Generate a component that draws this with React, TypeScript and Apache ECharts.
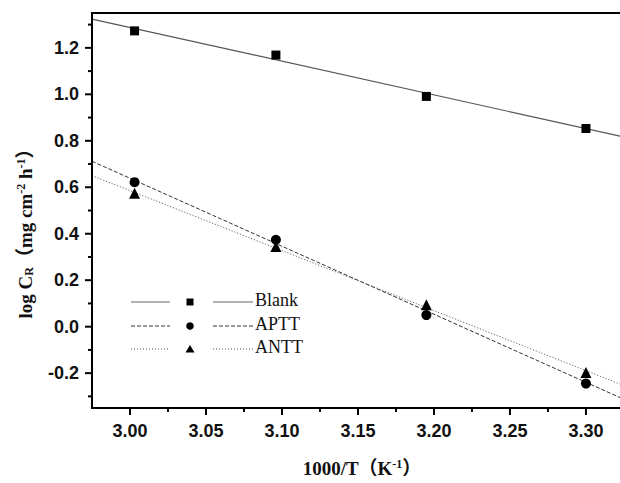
import React, { useEffect, useRef } from "react";
import * as echarts from "echarts";

// ---- data ----
const xValues = [3.003, 3.096, 3.195, 3.3];
const blankValues = [1.273, 1.169, 0.991, 0.853];
const apttValues = [0.622, 0.374, 0.05, -0.245];
const anttValues = [0.574, 0.345, 0.094, -0.197];

// fitted lines, end points at the axis limits
const fitX = [2.975, 3.3224];
const blankFit = [1.324, 0.82];
const apttFit = [0.712, -0.305];
const anttFit = [0.65, -0.247];

const seriesNames = ["Blank", "APTT", "ANTT"];

// axis range (the right frame of the original lies just outside the picture)
const xMin = 2.975;
const xMax = 3.3224;
const yMin = -0.35;
const yMax = 1.35;
const xTicks = [3.0, 3.05, 3.1, 3.15, 3.2, 3.25, 3.3];
const xMinorTicks = [3.025, 3.075, 3.125, 3.175, 3.225, 3.275];
const yTicks = [-0.2, 0.0, 0.2, 0.4, 0.6, 0.8, 1.0, 1.2];
const yMinorTicks = [-0.3, -0.1, 0.1, 0.3, 0.5, 0.7, 0.9, 1.1, 1.3];

const pairs = (xs: number[], ys: number[]) => xs.map((x, i) => [x, ys[i]]);

const SANS = '"Liberation Sans", Arial, sans-serif';
const SERIF = '"Liberation Serif", "Times New Roman", "Noto Sans CJK SC", serif';
const INK = "#111";
const GRID = { left: 92, right: 0, top: 13, bottom: 75, containLabel: false };

function tickSeries(data: number[][], dir: "x" | "y", len: number) {
  return {
    type: "custom",
    coordinateSystem: "cartesian2d",
    clip: false,
    silent: true,
    z: 5,
    data,
    renderItem: (_p: any, api: any) => {
      const pt = api.coord([api.value(0), api.value(1)]);
      const shape =
        dir === "x"
          ? { x1: pt[0], y1: pt[1], x2: pt[0], y2: pt[1] + len }
          : { x1: pt[0], y1: pt[1], x2: pt[0] - len, y2: pt[1] };
      return { type: "line", shape, style: { stroke: "#000", lineWidth: 2 } };
    },
  };
}

function fitSeries(name: string, ys: number[], color: string, dash: number[] | null, width: number) {
  return {
    type: "custom",
    name,
    coordinateSystem: "cartesian2d",
    clip: false,
    silent: true,
    z: 1,
    encode: { x: [0, 2], y: [1, 3] },
    data: [[fitX[0], ys[0], fitX[1], ys[1]]],
    renderItem: (_p: any, api: any) => {
      const a = api.coord([api.value(0), api.value(1)]);
      const b = api.coord([api.value(2), api.value(3)]);
      const style: any = { stroke: color, lineWidth: width, fill: null };
      if (dash) style.lineDash = dash;
      return { type: "line", shape: { x1: a[0], y1: a[1], x2: b[0], y2: b[1] }, style };
    },
  };
}

// Plain frame chart (axes + ticks only), stacked over the main chart.
function frameOption(): any {
  return {
    animation: false,
    backgroundColor: "transparent",
    grid: GRID,
    xAxis: [
      {
        type: "value", min: xMin, max: xMax, position: "bottom", splitLine: { show: false },
        axisLine: { show: true, onZero: false, lineStyle: { color: "#000", width: 2 } },
        axisTick: { show: false }, axisLabel: { show: false },
      },
      {
        type: "value", min: xMin, max: xMax, position: "top", splitLine: { show: false },
        axisLine: { show: true, onZero: false, lineStyle: { color: "#000", width: 2 } },
        axisTick: { show: false }, axisLabel: { show: false },
      },
    ],
    yAxis: [
      {
        type: "value", min: yMin, max: yMax, position: "left", splitLine: { show: false },
        axisLine: { show: true, onZero: false, lineStyle: { color: "#000", width: 2 } },
        axisTick: { show: false }, axisLabel: { show: false },
      },
    ],
    series: [
      tickSeries(xTicks.map((v) => [v, yMin]), "x", 7),
      tickSeries(xMinorTicks.map((v) => [v, yMin]), "x", 4),
      tickSeries(yTicks.map((v) => [xMin, v]), "y", 7),
      tickSeries(yMinorTicks.map((v) => [xMin, v]), "y", 4),
    ],
  };
}

function mainOption(): any {
  const graphics: any[] = [];
  const legendRows = [302, 326, 349];
  const legendDash: any[] = [null, [4, 2], [1, 2]];
  const legendColor = ["#666", "#333", "#555"];
  legendRows.forEach((y, i) => {
    [[131, 170], [213, 253]].forEach(([x1, x2]) => {
      const style: any = { stroke: legendColor[i], lineWidth: 1 };
      if (legendDash[i]) style.lineDash = legendDash[i];
      graphics.push({ type: "line", shape: { x1, y1: y, x2, y2: y }, style });
    });
    graphics.push({
      type: "text",
      left: 255,
      top: y - 11,
      style: { text: seriesNames[i], font: `18px ${SERIF}`, fill: INK },
    });
  });
  graphics.push({ type: "rect", shape: { x: 186.5, y: 298.5, width: 7, height: 7 }, style: { fill: "#000" } });
  graphics.push({ type: "circle", shape: { cx: 190, cy: 326, r: 3.8 }, style: { fill: "#000" } });
  graphics.push({
    type: "polygon",
    shape: { points: [[190, 345], [194.5, 352.5], [185.5, 352.5]] },
    style: { fill: "#000" },
  });
  const titleRich = {
    sup: { font: `bold 12px ${SERIF}`, fill: INK, padding: [0, 0, 9, 0] },
    sub: { font: `bold 12px ${SERIF}`, fill: INK, padding: [7, 0, 0, 0] },
  };
  graphics.push({
    type: "text",
    x: 25,
    y: 229,
    rotation: Math.PI / 2,
    style: {
      text: "log C{sub|R}（mg cm{sup|-2} h{sup|-1}）",
      font: `bold 19px ${SERIF}`,
      fill: INK,
      align: "center",
      verticalAlign: "middle",
      rich: titleRich,
    },
  });
  graphics.push({
    type: "text",
    x: 362,
    y: 468,
    style: {
      text: "1000/T（K{sup|-1}）",
      font: `bold 19px ${SERIF}`,
      fill: INK,
      align: "center",
      verticalAlign: "middle",
      rich: titleRich,
    },
  });

  return {
    animation: false,
    backgroundColor: "#fff",
    grid: GRID,
    xAxis: [
      {
        type: "value",
        min: xMin,
        max: xMax,
        position: "bottom",
        splitLine: { show: false },
        axisLine: { show: true, onZero: false, lineStyle: { color: "#000", width: 2 } },
        axisTick: { show: false },
        axisLabel: {
          show: true,
          margin: 14,
          customValues: xTicks,
          formatter: (v: number) => v.toFixed(2),
          color: INK,
          fontFamily: SANS,
          fontWeight: "bold",
          fontSize: 18,
        },
      },
    ],
    yAxis: [
      {
        type: "value",
        min: yMin,
        max: yMax,
        position: "left",
        splitLine: { show: false },
        axisLine: { show: true, onZero: false, lineStyle: { color: "#000", width: 2 } },
        axisTick: { show: false },
        axisLabel: {
          show: true,
          margin: 13,
          customValues: yTicks,
          formatter: (v: number) => (Math.abs(v) < 1e-9 ? "0.0" : v.toFixed(1)),
          color: INK,
          fontFamily: SANS,
          fontWeight: "bold",
          fontSize: 18,
        },
      },
    ],
    series: [
      fitSeries("Blank fit", blankFit, "#555", null, 1.2),
      fitSeries("APTT fit", apttFit, "#333", [4, 2], 1),
      fitSeries("ANTT fit", anttFit, "#666", [1.2, 1.8], 1),
      {
        type: "scatter",
        name: seriesNames[0],
        data: pairs(xValues, blankValues),
        symbol: "rect",
        symbolSize: 9,
        itemStyle: { color: "#000", opacity: 1 },
        z: 3,
      },
      {
        type: "scatter",
        name: seriesNames[1],
        data: pairs(xValues, apttValues),
        symbol: "circle",
        symbolSize: 10,
        itemStyle: { color: "#000", opacity: 1 },
        z: 3,
      },
      {
        type: "scatter",
        name: seriesNames[2],
        data: pairs(xValues, anttValues),
        symbol: "triangle",
        symbolSize: 11,
        itemStyle: { color: "#000", opacity: 1 },
        z: 3,
      },
    ],
    graphic: graphics,
  };
}

function EChart({ build, style }: { build: () => any; style: React.CSSProperties }) {
  const ref = useRef<HTMLDivElement>(null);
  useEffect(() => {
    if (!ref.current) return;
    const chart = echarts.init(ref.current, undefined, { renderer: "svg" });
    chart.setOption(build());
    return () => chart.dispose();
  }, [build]);
  return <div ref={ref} style={style} />;
}

export default function App() {
  const box: React.CSSProperties = { position: "absolute", left: 0, top: 0, width: 620, height: 483 };
  return (
    <div style={{ position: "absolute", left: 0, top: 0, width: 620, height: 483 }}>
      <EChart build={mainOption} style={box} />
      <EChart build={frameOption} style={{ ...box, pointerEvents: "none" }} />
    </div>
  );
}
